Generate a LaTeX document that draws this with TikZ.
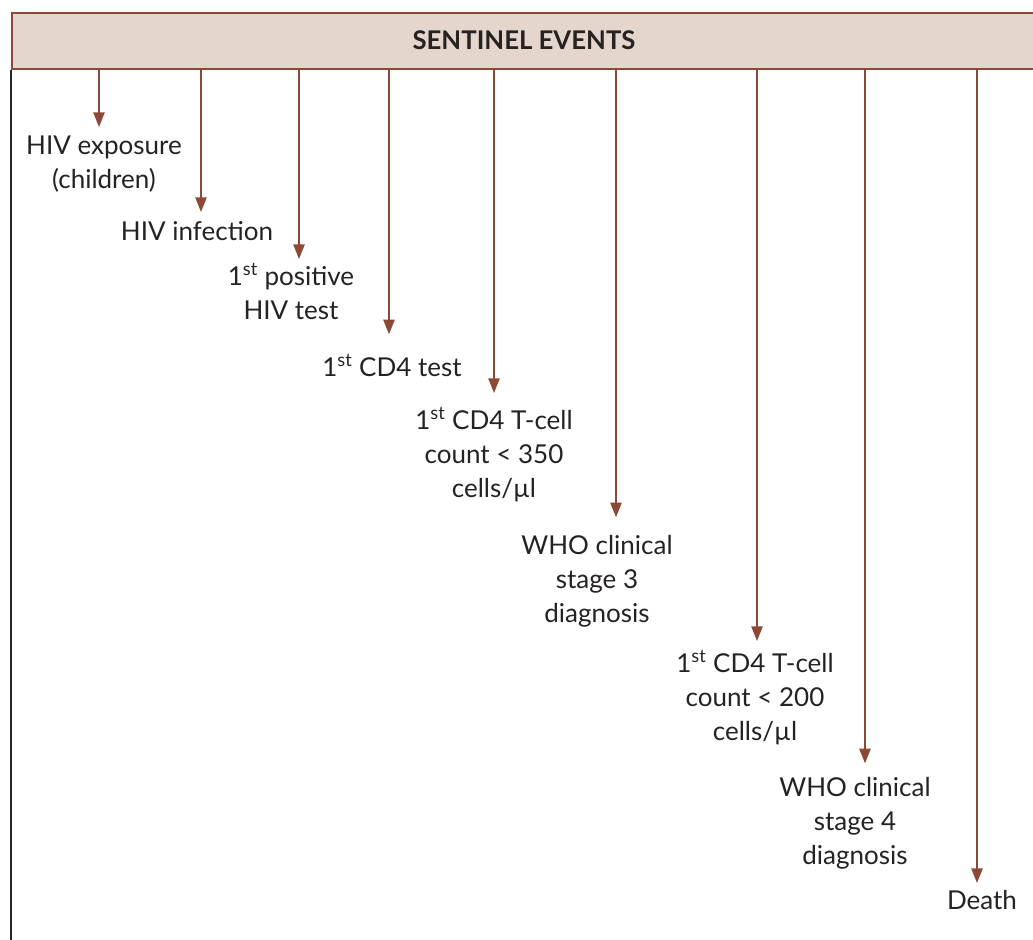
\documentclass[tikz,border=0pt]{standalone}
\usepackage{fontspec}
\setmainfont{Lato}
\usetikzlibrary{arrows.meta}
\definecolor{brn}{RGB}{139,74,56}
\definecolor{hdrfill}{RGB}{228,213,205}
\definecolor{txt}{RGB}{38,34,34}
\begin{document}
\begin{tikzpicture}[x=0.75pt,y=-0.75pt,
  lbl/.style={anchor=north,inner sep=0pt,align=center,text=txt,
    font=\fontsize{19.5}{25.5}\selectfont},
  arr/.style={draw=brn,line width=1.1pt,-{Triangle[width=8.5pt,length=11pt]}}]
\useasboundingbox (0,0) rectangle (1033,940);
\node[draw=brn,fill=hdrfill,line width=1.2pt,minimum width=1040*0.75pt,minimum height=56*0.75pt,
  anchor=north west,inner sep=0pt] (hdr) at (11,12) {};
\node[font=\bfseries\fontsize{19.3}{22}\selectfont,text=txt] (ht) at (524,40) {SENTINEL EVENTS};
\coordinate (lb) at (11,940);
\draw[line width=1.1pt,draw=black!85] (hdr.south west) -- (lb);
% arrow columns
\coordinate (a1) at (99,0);
\coordinate (a2) at (201,0);
\coordinate (a3) at (299,0);
\coordinate (a4) at (389,0);
\coordinate (a5) at (494,0);
\coordinate (a6) at (616,0);
\coordinate (a7) at (757,0);
\coordinate (a8) at (865,0);
\coordinate (a9) at (977,0);
% labels
\node[lbl] (l1) at (104,135.3) {HIV exposure\\(children)};
\node[lbl] (l2) at (197,221.3) {HIV infection};
\node[lbl] (l3) at (291,263.3) {1\textsuperscript{st} positive\\HIV test};
\node[lbl] (l4) at (392,354.3) {1\textsuperscript{st} CD4 test};
\node[lbl] (l5) at (494,407.3) {1\textsuperscript{st} CD4 T-cell\\count < 350\\cells/µl};
\node[lbl] (l6) at (597,535.3) {WHO clinical\\stage 3\\diagnosis};
\node[lbl] (l7) at (755,650.3) {1\textsuperscript{st} CD4 T-cell\\count < 200\\cells/µl};
\node[lbl] (l8) at (855,777.3) {WHO clinical\\stage 4\\diagnosis};
\node[lbl] (l9) at (982,890.3) {Death};
% arrows
\draw[arr,shorten >=8.3*0.75pt] (hdr.south -| a1) -- (a1 |- l1.north);
\draw[arr,shorten >=9.3*0.75pt] (hdr.south -| a2) -- (a2 |- l2.north);
\draw[arr,shorten >=4.3*0.75pt] (hdr.south -| a3) -- (a3 |- l3.north);
\draw[arr,shorten >=20*0.75pt] (hdr.south -| a4) -- (a4 |- l4.north);
\draw[arr,shorten >=14.3*0.75pt] (hdr.south -| a5) -- (a5 |- l5.north);
\draw[arr,shorten >=18*0.75pt] (hdr.south -| a6) -- (a6 |- l6.north);
\draw[arr,shorten >=9.3*0.75pt] (hdr.south -| a7) -- (a7 |- l7.north);
\draw[arr,shorten >=14*0.75pt] (hdr.south -| a8) -- (a8 |- l8.north);
\draw[arr,shorten >=7.3*0.75pt] (hdr.south -| a9) -- (a9 |- l9.north);
\end{tikzpicture}
\end{document}
